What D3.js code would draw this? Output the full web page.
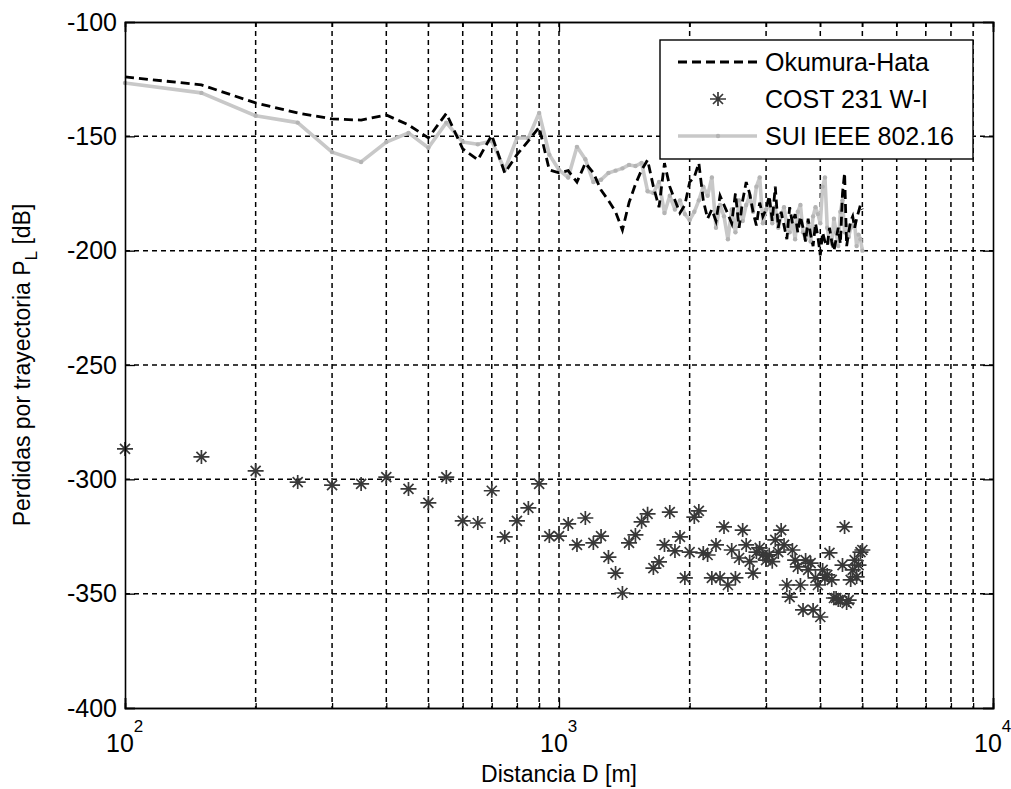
<!DOCTYPE html>
<html>
<head>
<meta charset="utf-8">
<script src="https://cdn.jsdelivr.net/npm/d3@7"></script>
<style>
  body { margin: 0; background: #fff; }
  svg { display: block; }
  text { font-family: "Liberation Sans", Arial, sans-serif; }
</style>
</head>
<body>
<svg id="chart" width="1011" height="789"></svg>
<script>

// distancias [m]
const dist = [100,150,200,250,300,350,400,450,500,550,600,650,700,750,800,850,900,950,
  1000,1050,1100,1150,1200,1250,1300,1350,1400,1450,1500,1550,1600,1650,1700,1750,1800,1850,1900,1950,
  2000,2050,2100,2150,2200,2250,2300,2350,2400,2450,2500,2550,2600,2650,2700,2750,2800,2850,2900,2950,
  3000,3050,3100,3150,3200,3250,3300,3350,3400,3450,3500,3550,3600,3650,3700,3750,3800,3850,3900,3950,
  4000,4050,4100,4150,4200,4250,4300,4350,4400,4450,4500,4550,4600,4650,4700,4750,4800,4850,4900,4950,5000];

const okumura = [-124,-127.5,-135.4,-139.8,-142.4,-142.9,-140.7,-145,-150.7,-140,-155.5,-160.3,-149.5,-166,-158,-152,-146,-164.7,
  -166,-165,-170,-161.7,-166,-173.5,-178,-183,-191,-179,-171,-164.7,-160.3,-172,-181,-161.7,-172,-178,-183.5,-180,
  -170,-167.8,-161.7,-178,-186,-182,-187,-176,-180,-184,-188,-175,-190,-178,-170,-175,-183,-189,-179,-185,
  -182,-176,-187,-172,-190,-183,-189,-195,-181,-188,-184,-192,-185,-190,-196,-186,-193,-198,-188,-194,
  -202,-192,-196,-198,-190,-196,-200,-195,-190,-197,-175,-166,-198,-192,-187,-185,-190,-186,-183,-180,-182];

const cost = [-286.7,-290.2,-296.3,-301.2,-302.5,-302,-299,-304.2,-310.3,-299,-318.2,-319.1,-305,-325.2,-318.2,-312.5,-302,-324.8,
  -324.8,-319.5,-328.7,-316.9,-327.8,-324.8,-334,-341,-349.7,-327.8,-324.3,-318.6,-315.1,-338.8,-336.1,-328.7,-314.3,-331.3,-325.2,-343.1,
  -331.8,-316.5,-313.8,-332.2,-333.1,-343.1,-328.7,-343.1,-320.8,-346.2,-330.9,-343.1,-334.4,-322.2,-328.7,-336,-341,-331.8,-330,-333,
  -335.3,-333,-336,-326.5,-331.8,-322.2,-328.7,-346.2,-351.5,-330.9,-335.3,-338.3,-346.2,-357.1,-335.3,-339.6,-336.6,-357.1,-343.1,-346.2,
  -360.2,-339.6,-343.1,-341.8,-332.2,-344,-351.9,-351.9,-352.8,-352.8,-337.5,-320.8,-354.1,-352.8,-344,-339.6,-335.3,-342.7,-337.5,-331.8,-330.9];

const sui = [-126.7,-131,-141,-144,-156.9,-161.2,-152.5,-148.5,-155,-144,-152.5,-153.5,-152,-164.7,-150.7,-150.7,-139.8,-158,
  -164.7,-168,-154.6,-160,-170,-169,-166,-165,-164,-162.5,-163,-161.6,-174,-174.8,-170,-183.5,-176,-182,-178,-184,
  -186.6,-183,-178,-172,-176,-168,-190,-180,-185,-195,-182,-192,-178,-187,-180,-176,-183,-172,-168,-188,
  -182,-178,-188,-181,-190,-185,-181,-189,-192,-186,-195,-183,-180,-192,-195,-188,-196,-185,-181,-184,
  -188,-172,-168,-190,-196,-197,-186,-192,-198,-183,-178,-192,-189,-194,-190,-189,-188,-198,-193,-195,-200];

const seriesNames = ['Okumura-Hata', 'COST 231 W-I', 'SUI IEEE 802.16'];
const yTicks = [-400,-350,-300,-250,-200,-150,-100];
const xMajor = [100,1000,10000];
const xMinor = [200,300,400,500,600,700,800,900,2000,3000,4000,5000,6000,7000,8000,9000];
const xExp = ['2','3','4'];

const svg = d3.select('#chart');
const pL = 125, pR = 993, pT = 22, pB = 708;

let x = d3.scaleLog().domain([100, 10000]).range([pL, pR]);
let y = d3.scaleLinear().domain([-400, -100]).range([pB, pT]);

// rejilla
let grid = svg.append('g').attr('stroke', '#000').attr('stroke-width', 1.5).attr('stroke-dasharray', '5,4');
grid.selectAll('line.gx')
  .data(xMinor.concat([1000]))
  .enter().append('line')
  .attr('x1', d => x(d)).attr('x2', d => x(d))
  .attr('y1', pT).attr('y2', pB);
grid.selectAll('line.gy')
  .data(yTicks.slice(1, -1))
  .enter().append('line')
  .attr('x1', pL).attr('x2', pR)
  .attr('y1', d => y(d)).attr('y2', d => y(d));

let line = d3.line()
  .x((d, i) => x(dist[i]))
  .y(d => y(d));

// SUI (gris)
svg.append('path')
  .attr('d', line(sui))
  .attr('fill', 'none')
  .attr('stroke', '#c8c8c8')
  .attr('stroke-width', 3.6)
  .attr('stroke-linejoin', 'round');
svg.append('g').selectAll('circle')
  .data(sui)
  .enter().append('circle')
  .attr('cx', (d, i) => x(dist[i]))
  .attr('cy', d => y(d))
  .attr('r', 2.2)
  .attr('fill', '#b4b4b4');

// Okumura-Hata (negro, discontinua)
svg.append('path')
  .attr('d', line(okumura))
  .attr('fill', 'none')
  .attr('stroke', '#000')
  .attr('stroke-width', 2.8)
  .attr('stroke-dasharray', '9,5');

// COST 231 (asteriscos)
const starPath = 'M-8,0H8M0,-7V7M-5,-5L5,5M-5,5L5,-5';
svg.append('g').selectAll('path')
  .data(cost)
  .enter().append('path')
  .attr('d', starPath)
  .attr('transform', (d, i) => 'translate(' + x(dist[i]) + ',' + y(d) + ')')
  .attr('fill', 'none')
  .attr('stroke', '#383838')
  .attr('stroke-width', 1.7);

// ejes (caja)
let axB = svg.append('g').attr('transform', 'translate(0,' + pB + ')')
  .call(d3.axisBottom(x).tickValues(xMajor).tickSize(-10).tickFormat(''));
let axBm = svg.append('g').attr('transform', 'translate(0,' + pB + ')')
  .call(d3.axisBottom(x).tickValues(xMinor).tickSize(-5).tickFormat(''));
let axT = svg.append('g').attr('transform', 'translate(0,' + pT + ')')
  .call(d3.axisTop(x).tickValues(xMajor).tickSize(-10).tickFormat(''));
let axTm = svg.append('g').attr('transform', 'translate(0,' + pT + ')')
  .call(d3.axisTop(x).tickValues(xMinor).tickSize(-5).tickFormat(''));
let axL = svg.append('g').attr('transform', 'translate(' + pL + ',0)')
  .call(d3.axisLeft(y).tickValues(yTicks).tickSize(-10).tickPadding(8).tickFormat(d => String(d)));
let axR = svg.append('g').attr('transform', 'translate(' + pR + ',0)')
  .call(d3.axisRight(y).tickValues(yTicks).tickSize(-10).tickFormat(''));

[axB, axBm, axT, axTm, axL, axR].forEach(function (a) {
  a.select('.domain').attr('stroke', '#000').attr('stroke-width', 1.6);
  a.selectAll('.tick line').attr('stroke', '#000').attr('stroke-width', 1.3);
});
axL.selectAll('.tick text')
  .attr('font-size', 25)
  .attr('fill', '#000')
  .attr('font-family', '"Liberation Sans", Arial, sans-serif');

// etiquetas 10^n
let xl = svg.append('g');
xMajor.forEach(function (v, i) {
  let t = xl.append('text')
    .attr('x', x(v) - 19)
    .attr('y', 752)
    .attr('font-size', 25)
    .attr('fill', '#000');
  t.append('tspan').text('10');
  t.append('tspan').attr('dy', -20).attr('font-size', 17).text(xExp[i]);
});

svg.append('text')
  .attr('x', (pL + pR) / 2)
  .attr('y', 782)
  .attr('text-anchor', 'middle')
  .attr('font-size', 23)
  .text('Distancia D [m]');

let yl = svg.append('text')
  .attr('transform', 'translate(30,' + ((pT + pB) / 2) + ') rotate(-90)')
  .attr('text-anchor', 'middle')
  .attr('font-size', 23);
yl.append('tspan').text('Perdidas por trayectoria P');
yl.append('tspan').attr('dy', 7).attr('font-size', 17).text('L');
yl.append('tspan').attr('dy', -7).text(' [dB]');

// leyenda
let lg = svg.append('g');
lg.append('rect')
  .attr('x', 660).attr('y', 40).attr('width', 313).attr('height', 119)
  .attr('fill', '#fff').attr('stroke', '#000').attr('stroke-width', 1.4);
const rowY = [62, 99, 136];
lg.append('line').attr('x1', 678).attr('x2', 757).attr('y1', rowY[0]).attr('y2', rowY[0])
  .attr('stroke', '#000').attr('stroke-width', 2.8).attr('stroke-dasharray', '9,5');
lg.append('path').attr('d', starPath).attr('transform', 'translate(718,' + rowY[1] + ')')
  .attr('fill', 'none').attr('stroke', '#383838').attr('stroke-width', 1.7);
lg.append('line').attr('x1', 678).attr('x2', 757).attr('y1', rowY[2]).attr('y2', rowY[2])
  .attr('stroke', '#c8c8c8').attr('stroke-width', 3.6);
lg.append('circle').attr('cx', 718).attr('cy', rowY[2]).attr('r', 2.2).attr('fill', '#b4b4b4');
lg.selectAll('text.lbl')
  .data(seriesNames)
  .enter().append('text')
  .attr('x', 765)
  .attr('y', (d, i) => rowY[i] + 9)
  .attr('font-size', 25)
  .text(d => d);

</script>
</body>
</html>
